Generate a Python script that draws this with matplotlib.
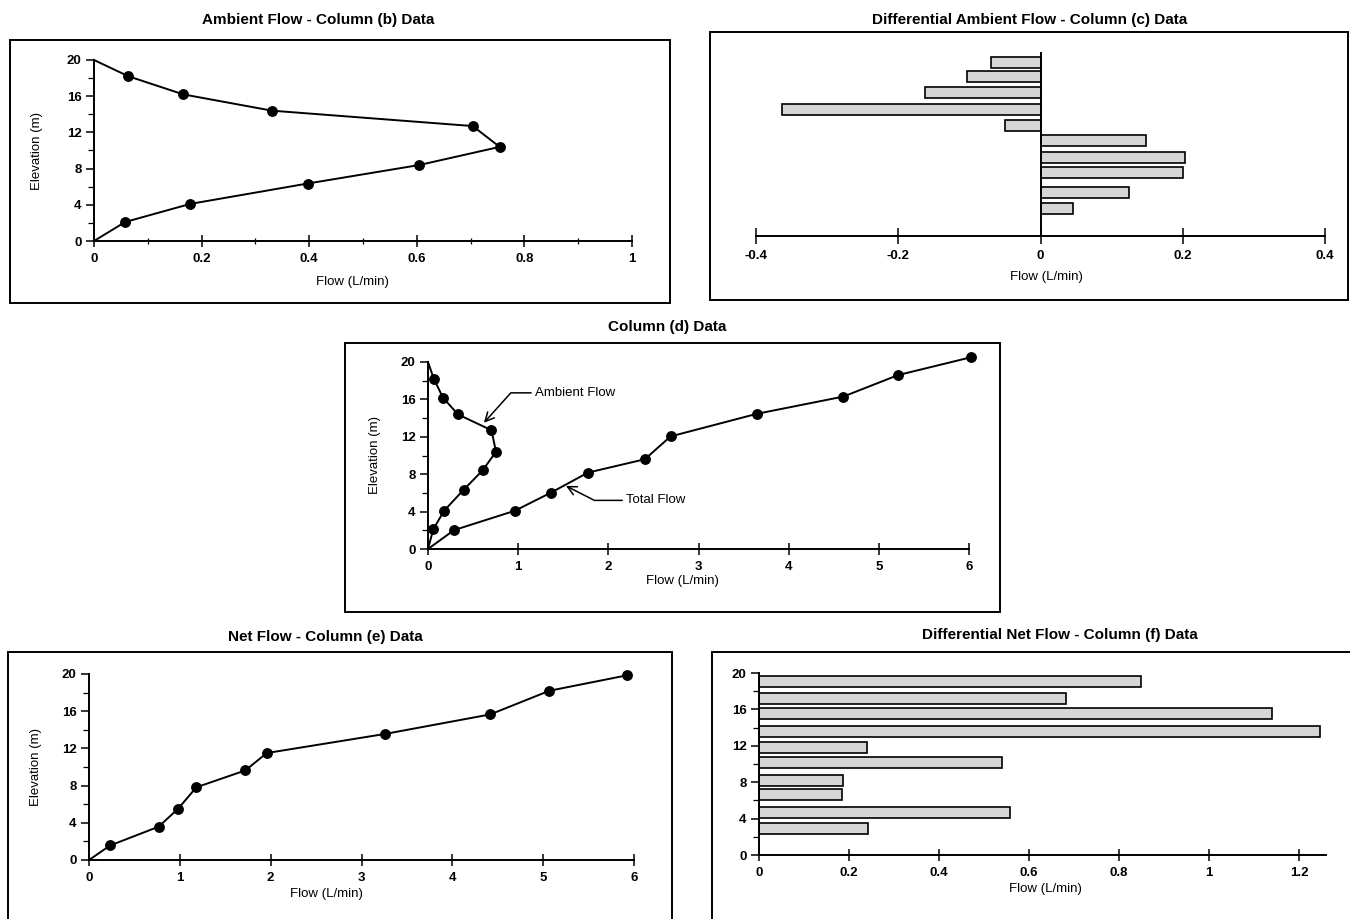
import matplotlib
matplotlib.use("Agg")
import matplotlib.pyplot as plt
from matplotlib.patches import Rectangle
from matplotlib.ticker import MultipleLocator

plt.rcParams['font.family'] = ['Liberation Sans', 'DejaVu Sans']

# Ambient flow profile (column b)
amb_elev = [0, 2.1, 4.1, 6.35, 8.4, 10.4, 12.7, 14.4, 16.2, 18.2, 20]
amb_flow = [0, 0.058, 0.179, 0.397, 0.605, 0.754, 0.704, 0.331, 0.166, 0.064, 0]

# Differential ambient flow (column c)
dam_elev = [19.0, 17.4, 15.7, 13.8, 12.1, 10.4, 8.6, 6.9, 4.8, 3.0]
dam_flow = [-0.070, -0.103, -0.163, -0.363, -0.050, 0.148, 0.203, 0.201, 0.125, 0.045]

# Total flow (column d)
tot_elev = [0, 2.02, 4.09, 6.04, 8.17, 9.6, 12.04, 14.46, 16.3, 18.6, 20.5]
tot_flow = [0, 0.289, 0.963, 1.366, 1.774, 2.405, 2.69, 3.648, 4.606, 5.213, 6.02]

# Net flow (column e)
net_elev = [0, 1.56, 3.58, 5.49, 7.82, 9.63, 11.5, 13.56, 15.65, 18.2, 19.86]
net_flow = [0, 0.232, 0.766, 0.979, 1.182, 1.721, 1.957, 3.262, 4.416, 5.069, 5.924]

# Differential net flow (column f)
dnet_elev = [19.1, 17.2, 15.5, 13.6, 11.8, 10.2, 8.2, 6.6, 4.7, 2.9]
dnet_flow = [0.850, 0.683, 1.140, 1.247, 0.240, 0.539, 0.187, 0.184, 0.558, 0.242]

W, H = 1350, 919
fig = plt.figure(figsize=(W / 100, H / 100), dpi=100)


def px_axes(x0, x1, y0, y1):
    # x0,x1 left/right, y0 bottom pixel, y1 top pixel
    return fig.add_axes([x0 / W, 1 - y0 / H, (x1 - x0) / W, (y0 - y1) / H])


def box(x0, y0, x1, y1):
    fig.patches.append(Rectangle((x0 / W, 1 - y1 / H), (x1 - x0) / W, (y1 - y0) / H,
                                 transform=fig.transFigure, fill=False,
                                 edgecolor='black', linewidth=1.4))


def title(x, y, s):
    fig.text(x / W, 1 - y / H, s, ha='center', va='center',
             fontsize=11, fontweight='bold')


def style(ax):
    ax.spines['top'].set_visible(False)
    ax.spines['right'].set_visible(False)
    for s in ax.spines.values():
        s.set_linewidth(1.4)
    ax.tick_params(axis='x', direction='inout', length=9, width=1.1, pad=4,
                   labelsize=9.5)
    ax.tick_params(axis='x', which='minor', direction='inout', length=5, width=0.9)
    ax.tick_params(axis='y', direction='out', length=6, width=1.1, pad=3,
                   labelsize=9.5)
    ax.tick_params(axis='y', which='minor', direction='out', length=4, width=0.9)
    for lab in ax.get_xticklabels() + ax.get_yticklabels():
        lab.set_fontweight('bold')
    ax.patch.set_alpha(0)


line_kw = dict(color='black', linewidth=1.4)
dot_kw = dict(color='black', marker='o', markersize=6.8, linestyle='none',
              clip_on=False, zorder=3)
bar_kw = dict(height=1.2, color='#d6d6d6', edgecolor='black', linewidth=1.2)

# ---- Panel 1: ambient flow
box(10, 40, 670, 303)
title(318, 20, "Ambient Flow - Column (b) Data")
ax1 = px_axes(94, 632, 241, 60)
ax1.plot(amb_flow, amb_elev, clip_on=False, **line_kw)
ax1.plot(amb_flow[1:-1], amb_elev[1:-1], **dot_kw)
ax1.set_xlim(0, 1)
ax1.set_ylim(0, 20)
ax1.set_xticks([0, 0.2, 0.4, 0.6, 0.8, 1])
ax1.set_xticklabels(['0', '0.2', '0.4', '0.6', '0.8', '1'])
ax1.xaxis.set_minor_locator(MultipleLocator(0.1))
ax1.set_yticks([0, 4, 8, 12, 16, 20])
ax1.yaxis.set_minor_locator(MultipleLocator(2))
ax1.set_xlabel("Flow (L/min)", fontsize=9.5)
ax1.set_ylabel("Elevation (m)", fontsize=9.5)
ax1.xaxis.set_label_coords(0.48, -0.193)
ax1.yaxis.set_label_coords(-0.095, 0.5)
style(ax1)

# ---- Panel 2: differential ambient flow
box(710, 32, 1348, 300)
title(1030, 20, "Differential Ambient Flow - Column (c) Data")
ax2 = px_axes(756, 1325, 236, 53)
ax2.barh(dam_elev, dam_flow, **bar_kw)
ax2.set_xlim(-0.4, 0.4)
ax2.set_ylim(0, 20)
ax2.set_xticks([-0.4, -0.2, 0, 0.2, 0.4])
ax2.set_xticklabels(['-0.4', '-0.2', '0', '0.2', '0.4'])
ax2.spines['left'].set_position(('data', 0))
ax2.set_yticks([])
ax2.set_xlabel("Flow (L/min)", fontsize=9.5)
ax2.xaxis.set_label_coords(0.51, -0.191)
style(ax2)
ax2.tick_params(axis='x', length=12)

# ---- Panel 3: column (d)
box(345, 343, 1000, 612)
title(667, 327, "Column (d) Data")
ax3 = px_axes(428, 969, 549, 362)
ax3.plot(amb_flow, amb_elev, clip_on=False, **line_kw)
ax3.plot(amb_flow[1:-1], amb_elev[1:-1], **dot_kw)
ax3.plot(tot_flow, tot_elev, clip_on=False, **line_kw)
ax3.plot(tot_flow[1:], tot_elev[1:], **dot_kw)
ax3.set_xlim(0, 6)
ax3.set_ylim(0, 20)
ax3.set_xticks(range(7))
ax3.set_yticks([0, 4, 8, 12, 16, 20])
ax3.yaxis.set_minor_locator(MultipleLocator(2))
ax3.set_xlabel("Flow (L/min)", fontsize=9.5)
ax3.set_ylabel("Elevation (m)", fontsize=9.5)
ax3.xaxis.set_label_coords(0.471, -0.139)
ax3.yaxis.set_label_coords(-0.087, 0.5)
style(ax3)
arrow = dict(arrowstyle='->', color='black', linewidth=1.1, shrinkA=1, shrinkB=0,
             mutation_scale=16)
ax3.annotate("Ambient Flow", xy=(0.62, 13.5), xytext=(1.19, 16.7), fontsize=9.5,
             va='center', ha='left',
             arrowprops=dict(connectionstyle="angle,angleA=0,angleB=48,rad=0", **arrow))
ax3.annotate("Total Flow", xy=(1.53, 6.75), xytext=(2.2, 5.2), fontsize=9.5,
             va='center', ha='left',
             arrowprops=dict(connectionstyle="angle,angleA=0,angleB=-27,rad=0", **arrow))

# ---- Panel 4: net flow
box(8, 652, 672, 930)
title(325, 637, "Net Flow - Column (e) Data")
ax4 = px_axes(89, 634, 860, 674)
ax4.plot(net_flow, net_elev, clip_on=False, **line_kw)
ax4.plot(net_flow[1:], net_elev[1:], **dot_kw)
ax4.set_xlim(0, 6)
ax4.set_ylim(0, 20)
ax4.set_xticks(range(7))
ax4.set_yticks([0, 4, 8, 12, 16, 20])
ax4.yaxis.set_minor_locator(MultipleLocator(2))
ax4.set_xlabel("Flow (L/min)", fontsize=9.5)
ax4.set_ylabel("Elevation (m)", fontsize=9.5)
ax4.xaxis.set_label_coords(0.435, -0.15)
ax4.yaxis.set_label_coords(-0.086, 0.5)
style(ax4)

# ---- Panel 5: differential net flow
box(712, 652, 1360, 930)
title(1060, 635, "Differential Net Flow - Column (f) Data")
ax5 = px_axes(759, 1326, 855, 673)
ax5.barh(dnet_elev, dnet_flow, **bar_kw)
ax5.set_xlim(0, 1.26)
ax5.set_ylim(0, 20)
ax5.set_xticks([0, 0.2, 0.4, 0.6, 0.8, 1.0, 1.2])
ax5.set_xticklabels(['0', '0.2', '0.4', '0.6', '0.8', '1', '1.2'])
ax5.set_yticks([0, 4, 8, 12, 16, 20])
ax5.yaxis.set_minor_locator(MultipleLocator(2))
ax5.set_xlabel("Flow (L/min)", fontsize=9.5)
ax5.xaxis.set_label_coords(0.506, -0.154)
style(ax5)

fig.savefig("out.png", dpi=100)
